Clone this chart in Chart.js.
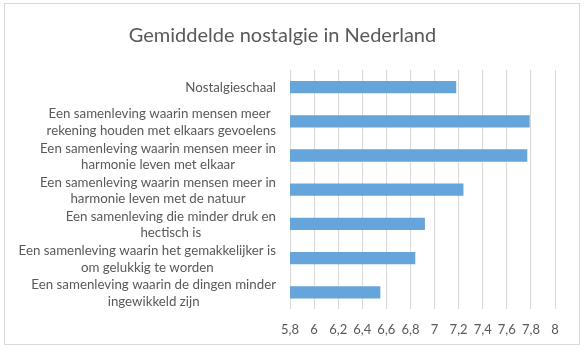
<!DOCTYPE html>
<html>
<head>
<meta charset="utf-8">
<script src="https://cdn.jsdelivr.net/npm/chart.js@4"></script>
<style>
  html, body { margin: 0; padding: 0; background: #ffffff; }
  #wrap { position: relative; width: 586px; height: 355px; }
  #frame { position: absolute; left: 4px; top: 3px; width: 574px; height: 340px; border: 1px solid #d9d9d9; box-sizing: content-box; pointer-events: none; }
  canvas { position: absolute; left: 0; top: 0; }
</style>
</head>
<body>
<div id="wrap">
  <canvas id="c" width="586" height="355"></canvas>
  <div id="frame"></div>
</div>
<script>
const chartTitle = "Gemiddelde nostalgie in Nederland";
const categories = [
  ["Nostalgieschaal"],
  ["Een samenleving waarin mensen meer ", "rekening houden met elkaars gevoelens"],
  ["Een samenleving waarin mensen meer in", "harmonie leven met elkaar"],
  ["Een samenleving waarin mensen meer in", "harmonie leven met de natuur"],
  ["Een samenleving die minder druk en", "hectisch is"],
  ["Een samenleving waarin het gemakkelijker is", "om gelukkig te worden"],
  ["Een samenleving waarin de dingen minder", "ingewikkeld zijn"]
];
const values = [7.18, 7.79, 7.77, 7.24, 6.92, 6.84, 6.55];
const axisMin = 5.8;
const axisMax = 8;
const axisStep = 0.2;

const FONT = "Lato, 'Open Sans', sans-serif";
const GREY = "#595959";
const LABEL_SIZE = 13.3;
const LABEL_LH = 16.5;

// Draw category labels right-aligned as a block, with lines centred within the block (Excel style)
const centredLabels = {
  id: 'centredLabels',
  afterDraw(chart) {
    const y = chart.scales.y;
    const ctx = chart.ctx;
    ctx.save();
    ctx.font = LABEL_SIZE + 'px ' + FONT;
    ctx.fillStyle = GREY;
    ctx.textAlign = 'center';
    ctx.textBaseline = 'middle';
    const right = y.right - 14;
    chart.data.labels.forEach((lab, i) => {
      const lines = Array.isArray(lab) ? lab : [lab];
      const w = Math.max(...lines.map(l => ctx.measureText(l).width));
      const cx = right - w / 2;
      const cy = y.getPixelForValue(i) + 1;
      lines.forEach((l, j) => {
        ctx.fillText(l, cx, cy + (j - (lines.length - 1) / 2) * LABEL_LH);
      });
    });
    ctx.restore();
  }
};

new Chart(document.getElementById('c'), {
  type: 'bar',
  data: {
    labels: categories,
    datasets: [{
      data: values,
      backgroundColor: '#65A5DC',
      borderWidth: 0,
      categoryPercentage: 1,
      barPercentage: 0.36
    }]
  },
  plugins: [centredLabels],
  options: {
    indexAxis: 'y',
    responsive: false,
    animation: false,
    layout: { padding: { left: 10, right: 31, top: 0, bottom: 4 } },
    plugins: {
      legend: { display: false },
      tooltip: { enabled: false },
      title: {
        display: true,
        text: chartTitle,
        color: GREY,
        font: { family: FONT, size: 20, weight: 'normal' },
        padding: { top: 24, bottom: 22 }
      }
    },
    scales: {
      x: {
        min: axisMin,
        max: axisMax,
        grid: { color: '#d9d9d9', lineWidth: 1, drawTicks: false },
        border: { display: false },
        ticks: {
          stepSize: axisStep,
          padding: 13,
          color: GREY,
          font: { family: FONT, size: 13 },
          callback: function (v) {
            return String(Number(v.toFixed(1))).replace('.', ',');
          }
        }
      },
      y: {
        grid: { display: false },
        border: { display: false },
        ticks: {
          autoSkip: false,
          padding: 14,
          color: 'rgba(0,0,0,0)',
          font: { family: FONT, size: 10, lineHeight: 1 }
        },
        afterFit: function (scale) { scale.width = 280; }
      }
    }
  }
});
</script>
</body>
</html>
